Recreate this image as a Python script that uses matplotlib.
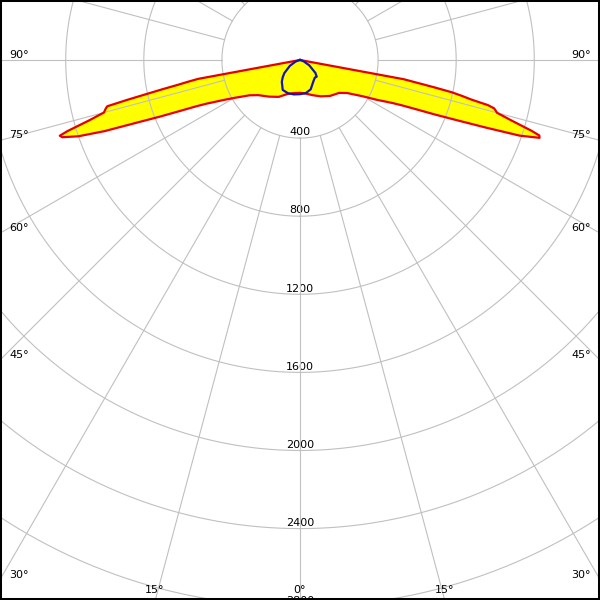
import numpy as np
import matplotlib
matplotlib.use("Agg")
import matplotlib.pyplot as plt
from matplotlib.patches import Rectangle

# ---------------- data ----------------
gamma = [0, 10, 20, 30, 40, 50, 55, 60, 62.5, 65, 66, 67, 68, 69, 70, 71, 72, 72.5,
         73, 74, 75, 75.5, 76, 76.5, 77, 77.5, 78, 78.5, 79, 79.5, 80, 90, 180]
# C180 plane (left half), cd
red_left = [168, 172, 185, 218, 245, 280, 315, 388, 445, 530, 585, 668, 775, 895, 1065,
            1200, 1280, 1290, 1245, 1125, 1040, 1032, 1025, 1015, 910, 805, 720, 640,
            585, 530, 0, 0, 0]
# C0 plane (right half), cd
red_right = [168, 175, 192, 215, 240, 262, 295, 372, 440, 520, 570, 645, 745, 860, 1010,
             1190, 1290, 1285, 1240, 1130, 1045, 1035, 1025, 990, 900, 850, 795, 700,
             610, 540, 0, 0, 0]

gamma_b = [0, 10, 20, 30, 40, 45, 50, 60, 70, 80, 90, 180]
blue_left = [175, 179, 181, 177, 145, 125, 105, 60, 25, 5, 0, 0]     # C270
blue_right = [175, 172, 160, 133, 118, 121, 103, 55, 20, 5, 0, 0]    # C90

ring_values = [400, 800, 1200, 1600, 2000, 2400, 2800, 3200]
ring_labels = ["400", "800", "1200", "1600", "2000", "2400", "2800"]
spoke_angles = list(range(0, 360, 15))
side_angle_labels = [90, 75, 60, 45, 30]
bottom_angle_labels = [-15, 0, 15]

# ---------------- layout ----------------
W = H = 600
cx, cy = 300.0, 60.0          # pole position in pixels (from top-left)
px_per_cd = 78.1 / 400.0
rmax = 3200
R = rmax * px_per_cd
grey = "#c0c0c0"

fig = plt.figure(figsize=(6, 6), dpi=100)
fig.patch.set_facecolor("white")
ax = fig.add_axes([(cx - R) / W, (H - cy - R) / H, 2 * R / W, 2 * R / H],
                  projection="polar")
ax.set_theta_zero_location("S")
ax.set_ylim(0, rmax)
ax.set_axis_off()

# grid rings
tt = np.linspace(0, 2 * np.pi, 1441)
for v in ring_values:
    ax.plot(tt, np.full_like(tt, v), color=grey, lw=0.8, zorder=2)
# spokes
for a in spoke_angles:
    th = np.deg2rad(a)
    ax.plot([th, th], [ring_values[0], rmax], color=grey, lw=0.8, zorder=2)

# radial labels
for v, s in zip(ring_values, ring_labels):
    ax.annotate(s, xy=(0, v), xytext=(0, 2.0), textcoords="offset points",
                ha="center", va="baseline", fontsize=8, color="black",
                family="DejaVu Sans", zorder=1.5)

# red curve (C0-C180)
g = np.array(gamma, dtype=float)
theta_r = np.deg2rad(np.concatenate([-g[::-1], g]))
r_r = np.concatenate([np.array(red_left, float)[::-1], np.array(red_right, float)])
ax.fill(theta_r, r_r, color="#ffff00", lw=0, zorder=1)
ax.plot(theta_r, r_r, color="#e60000", lw=1.6, zorder=3)

# blue curve (C90-C270)
gb = np.array(gamma_b, dtype=float)
theta_b = np.deg2rad(np.concatenate([-gb[::-1], gb]))
r_b = np.concatenate([np.array(blue_left, float)[::-1], np.array(blue_right, float)])
ax.plot(theta_b, r_b, color="#1414b4", lw=1.6, zorder=4)

# angle labels at the frame edges
def ftext(x, y, s, ha):
    fig.text(x / W, 1 - y / H, s, ha=ha, va="baseline", fontsize=8,
             family="DejaVu Sans", color="black")

for a in side_angle_labels:
    y_exit = cy + cx / np.tan(np.deg2rad(a)) if a != 90 else cy
    ftext(9, y_exit - 2, f"{a}°", "left")
    ftext(591, y_exit - 2, f"{a}°", "right")
for a in bottom_angle_labels:
    x_exit = cx + (H - cy) * np.tan(np.deg2rad(a))
    ftext(x_exit - 0.5, 593, f"{abs(a)}°", "center")

# black frame
fig.add_artist(Rectangle((0, 0), 1, 1, transform=fig.transFigure, fill=False,
                         edgecolor="black", linewidth=2.9, zorder=100))

fig.savefig("out.png", dpi=100, facecolor="white")
